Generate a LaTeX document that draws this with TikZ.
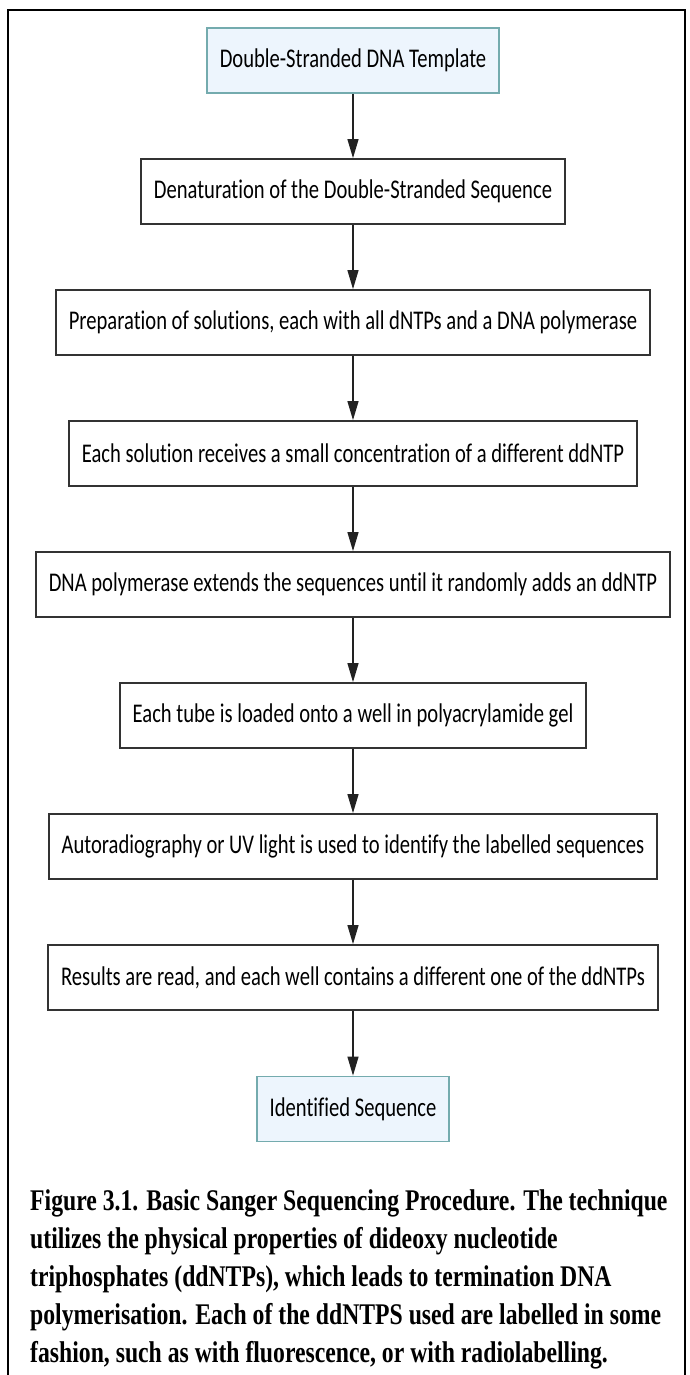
\documentclass[tikz,border=0pt]{standalone}
\usepackage{fontspec}
\usetikzlibrary{arrows.meta}
\newfontfamily\boxfont[FakeStretch=0.763, Ligatures={NoCommon}]{Carlito}
\newfontfamily\capfont[FakeStretch=0.79]{Liberation Serif}
\definecolor{boxline}{HTML}{333333}
\definecolor{tealline}{HTML}{74ABAE}
\definecolor{paleblue}{HTML}{EDF5FD}
\definecolor{arrowcol}{HTML}{222222}
\tikzset{
  stepbox/.style={draw=boxline, line width=1.8pt, fill=white, minimum height=65pt,
    inner xsep=13pt, inner ysep=0pt, font=\boxfont\fontsize{27}{32}\selectfont, text=black},
  endbox/.style={stepbox, draw=tealline, fill=paleblue},
  arr/.style={draw=arrowcol, line width=1.3pt, -{Triangle[length=19pt, width=11pt]}},
  captext/.style={anchor=base west, inner sep=0pt, font=\capfont\bfseries\fontsize{30}{36}\selectfont, text=black},
  frame/.style={draw=black, line width=2.5pt}
}
\begin{document}
\begin{tikzpicture}[x=1pt, y=-1pt]
\useasboundingbox (0,0) rectangle (690,1375);
\clip (0,0) rectangle (690,1375);
\fill[white] (0,0) rectangle (690,1375);
\draw[frame] (8,1390) -- (8,10) -- (685,10) -- (685,1390);

\node[endbox]  (b1) at (353,60.5)  {Double-Stranded DNA Template};
\node[stepbox] (b2) at (353,191.5) {Denaturation of the Double-Stranded Sequence};
\node[stepbox] (b3) at (353,322.5) {Preparation of solutions, each with all dNTPs and a DNA polymerase};
\node[stepbox] (b4) at (353,453.5) {Each solution receives a small concentration of a different ddNTP};
\node[stepbox] (b5) at (353,584.5) {DNA polymerase extends the sequences until it randomly adds an ddNTP};
\node[stepbox] (b6) at (353,715.5) {Each tube is loaded onto a well in polyacrylamide gel};
\node[stepbox] (b7) at (353,846.5) {Autoradiography or UV light is used to identify the labelled sequences};
\node[stepbox] (b8) at (353,977.5) {Results are read, and each well contains a different one of the ddNTPs};
\node[endbox]  (b9) at (353,1109)  {Identified Sequence};

\draw[arr] (b1.south) -- (b2.north);
\draw[arr] (b2.south) -- (b3.north);
\draw[arr] (b3.south) -- (b4.north);
\draw[arr] (b4.south) -- (b5.north);
\draw[arr] (b5.south) -- (b6.north);
\draw[arr] (b6.south) -- (b7.north);
\draw[arr] (b7.south) -- (b8.north);
\draw[arr] (b8.south) -- (b9.north);

\node[captext] (c1) at (30,1210) {Figure 3.1. Basic Sanger Sequencing Procedure. The technique};
\node[captext] (c2) at (30,1248) {utilizes the physical properties of dideoxy nucleotide};
\node[captext] (c3) at (30,1286) {triphosphates (ddNTPs), which leads to termination DNA};
\node[captext] (c4) at (30,1324) {polymerisation. Each of the ddNTPS used are labelled in some};
\node[captext] (c5) at (30,1362) {fashion, such as with fluorescence, or with radiolabelling.};
\end{tikzpicture}
\end{document}
